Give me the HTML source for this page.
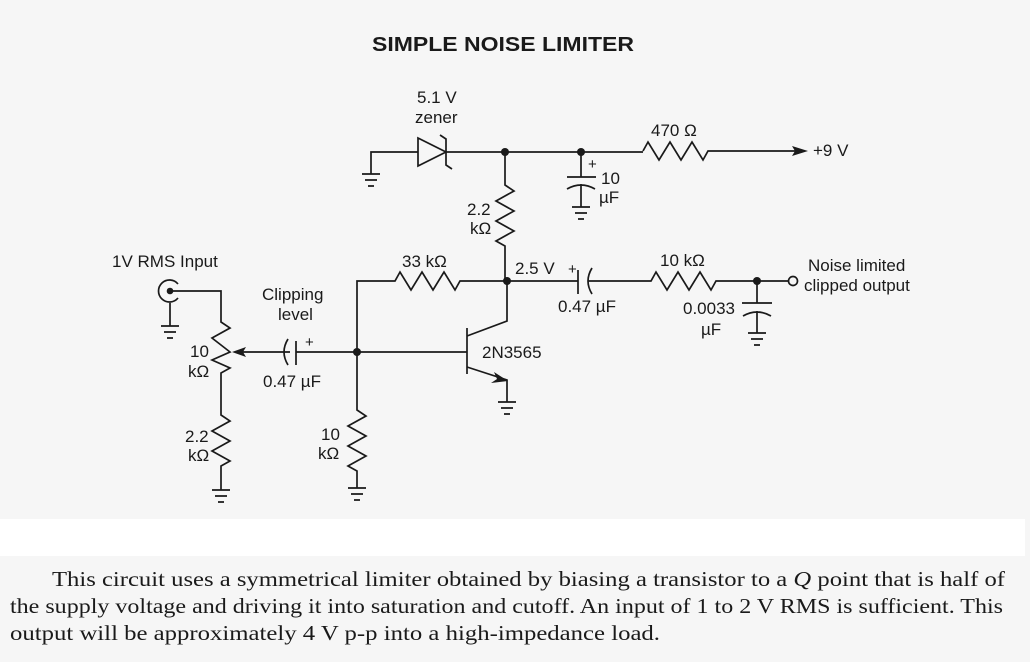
<!DOCTYPE html>
<html><head><meta charset="utf-8"><style>
html,body{margin:0;padding:0;background:#f5f5f5;}
svg{display:block}
</style></head><body>
<svg width="1030" height="662" viewBox="0 0 1030 662" xmlns="http://www.w3.org/2000/svg" font-family="Liberation Sans, sans-serif">
<rect width="1030" height="662" fill="#f6f6f6"/>
<rect x="0" y="519" width="1025" height="37" fill="#ffffff"/>
<g fill="#1a1a1a" font-size="17">
<text x="372" y="51" font-size="20" font-weight="bold" textLength="262" lengthAdjust="spacingAndGlyphs">SIMPLE NOISE LIMITER</text>
<text x="417" y="103">5.1 V</text>
<text x="415" y="123">zener</text>
<text x="651" y="136">470 Ω</text>
<text x="813" y="156">+9 V</text>
<text x="588" y="169" font-size="15">+</text>
<text x="601" y="184">10</text>
<text x="599" y="203">µF</text>
<text x="467" y="215">2.2</text>
<text x="470" y="234">kΩ</text>
<text x="402" y="267">33 kΩ</text>
<text x="515" y="274">2.5 V</text>
<text x="568" y="274" font-size="15">+</text>
<text x="558" y="312">0.47 µF</text>
<text x="660" y="266">10 kΩ</text>
<text x="683" y="314">0.0033</text>
<text x="701" y="335">µF</text>
<text x="808" y="271">Noise limited</text>
<text x="804" y="291">clipped output</text>
<text x="112" y="267">1V RMS Input</text>
<text x="262" y="300">Clipping</text>
<text x="278" y="320">level</text>
<text x="305" y="347" font-size="15">+</text>
<text x="190" y="357">10</text>
<text x="188" y="377">kΩ</text>
<text x="263" y="387">0.47 µF</text>
<text x="482" y="358">2N3565</text>
<text x="185" y="442">2.2</text>
<text x="188" y="461">kΩ</text>
<text x="321" y="440">10</text>
<text x="318" y="459">kΩ</text>
</g>
<g stroke="#1a1a1a" stroke-width="1.7" fill="none">
<path d="M371,174 V152 H418"/>
<path d="M362,174 H380 M365,180 H377 M368,186 H374"/>
<path d="M418,138 L446,152 L418,166 Z"/>
<path d="M440,135 L446,139 V165 L452,169"/>
<path d="M446,152 H643"/>
<path d="M643,151 L648,142 L659,160 L670,142 L681,160 L692,142 L703,160 L708,151 H800"/>
<path d="M581,152 V177 M567,177 H596"/>
<path d="M567,189 Q581,181 595,189 M581,184 V207 M572,207 H590 M575,213 H587 M578,219 H584"/>
<path d="M505,152 V185 L514,191 L496,201 L514,211 L496,221 L514,231 L496,241 L505,246 V281"/>
<path d="M357,352 V281 H395 L400,272 L411,290 L422,272 L433,290 L444,272 L455,290 L460,281 H507"/>
<path d="M507,281 H578 M578,270 V294"/>
<path d="M592,268 Q584,281 592,294"/>
<path d="M588,281 H651 L656,272 L667,290 L678,272 L689,290 L700,272 L711,290 L716,281 H789"/>
<circle cx="793" cy="281" r="4.5" fill="#f6f6f6"/>
<path d="M757,281 V303 M742,303 H772 M743,316 Q757,308 771,316 M757,311 V333 M748,333 H766 M751,339 H763 M754,345 H760"/>
<path d="M467,328 V374"/>
<path d="M357,352 H467"/>
<path d="M467,336 L507,321 V281"/>
<path d="M467,367 L507,380 V402 M498,402 H516 M501,408 H513 M504,414 H510"/>
<path d="M357,352 V410 L366,416 L348,426 L366,436 L348,446 L366,456 L348,466 L357,471 V488 M348,488 H366 M351,494 H363 M354,500 H360"/>
<path d="M178,284 A11,11 0 1 0 178,298"/>
<path d="M170,291 H221 V322 L230,328 L212,338 L221,345 L230,352 L212,360 L230,368 L221,373 V415 L230,421 L212,431 L230,441 L212,451 L230,461 L221,466 V490 M212,490 H230 M215,496 H227 M218,502 H224"/>
<path d="M170,303 V326 M161,326 H179 M164,332 H176 M167,338 H173"/>
<path d="M237,352 H290 M296,341 V365 M296,352 H357"/>
<path d="M288,339 Q280,352 288,365"/>
</g>
<g fill="#1a1a1a">
<circle cx="170" cy="291" r="3.3"/>
<circle cx="505" cy="152" r="4"/>
<circle cx="581" cy="152" r="4"/>
<circle cx="507" cy="281" r="4"/>
<circle cx="357" cy="352" r="4"/>
<circle cx="757" cy="281" r="4"/>
<path d="M808,151 L792,146 L795,151 L792,156 Z"/>
<path d="M232,352 L246,347 L243,352 L246,357 Z"/>
<path d="M508,381 L494,372 L497,379 L491,383 Z"/>
</g>
<g fill="#1a1a1a" font-family="Liberation Serif, serif" font-size="21">
<text x="52" y="586" textLength="953" lengthAdjust="spacingAndGlyphs">This circuit uses a symmetrical limiter obtained by biasing a transistor to a <tspan font-style="italic">Q</tspan> point that is half of</text>
<text x="10" y="613" textLength="993" lengthAdjust="spacingAndGlyphs">the supply voltage and driving it into saturation and cutoff. An input of 1 to 2 V RMS is sufficient. This</text>
<text x="10" y="640" textLength="650" lengthAdjust="spacingAndGlyphs">output will be approximately 4 V p-p into a high-impedance load.</text>
</g>
</svg>
</body></html>
